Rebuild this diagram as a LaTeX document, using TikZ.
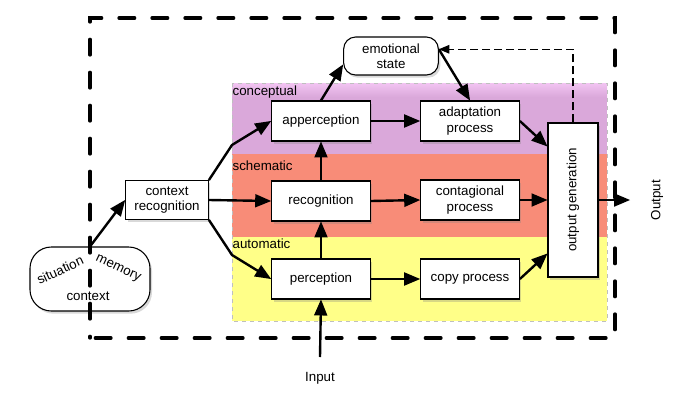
\documentclass[tikz,border=0pt]{standalone}
\usepackage{fontspec}
\setmainfont{Liberation Sans}
\usepackage{tikz}
\usetikzlibrary{arrows,shadows}

\definecolor{conceptcol}{RGB}{218,168,218}
\definecolor{concepttop}{RGB}{242,196,242}
\definecolor{schemacol}{RGB}{248,140,120}
\definecolor{autocol}{RGB}{255,255,136}

\begin{document}
\begin{tikzpicture}[x=0.75pt,y=-0.75pt,font=\fontsize{10}{11.5}\selectfont,
    procbox/.style={draw,fill=white,line width=0.8pt,align=center,
        minimum width=74pt,minimum height=30pt,inner sep=1pt,
        drop shadow={opacity=0.3,shadow xshift=1.5pt,shadow yshift=-2pt}},
    flow/.style={->,line width=1.8pt}]
\useasboundingbox (0,0) rectangle (694,408);

    % layers
    \fill[conceptcol] (232,83) rectangle (607,154);
    \shade[top color=concepttop,bottom color=conceptcol] (232,83) rectangle (607,97);
    \fill[schemacol] (232,154) rectangle (607,237);
    \fill[autocol] (232,237) rectangle (607,321);
    \draw[black!25,dashed,line width=0.6pt] (232,83) rectangle (607,321);
    \node[anchor=west,inner sep=1pt] (lconc) at (231,92) {conceptual};
    \node[anchor=west,inner sep=1pt] (lschem) at (231,166) {schematic};
    \node[anchor=west,inner sep=1pt] (lauto) at (231,244) {automatic};

    % boxes
    \node[procbox,minimum width=62pt,minimum height=29pt] (ctxrec) at (167,200) {context\\recognition};
    \node[procbox,rounded corners=16pt,minimum width=90pt,minimum height=48pt] (ctx) at (90,279) {};
    \node[rotate=25,inner sep=0pt] (sit) at (60,270) {situation};
    \node[rotate=-25,inner sep=0pt] (mem) at (118,269) {memory};
    \node[inner sep=0pt] (ctxlbl) at (88,296) {context};

    \node[procbox] (app) at (321,121) {apperception};
    \node[procbox] (rec) at (321,201) {recognition};
    \node[procbox] (per) at (321,279) {perception};
    \node[procbox] (adp) at (470,121) {adaptation\\process};
    \node[procbox] (ctg) at (470,200) {contagional\\process};
    \node[procbox] (cpy) at (470,279) {copy process};
    \node[procbox,rounded corners=9pt,minimum width=71pt,minimum height=28.5pt] (emo) at (391,56) {emotional\\state};
    \node[procbox,minimum width=37.5pt,minimum height=115.5pt] (og) at (573,200) {\rotatebox{90}{output generation}};

    \node[rotate=90] (outlbl) at (657,200) {Output};
    \node (inlbl) at (320,378) {Input};
    \coordinate (bendA) at (232,145);
    \coordinate (bendB) at (232,255);
    \coordinate (outtip) at (630,200);
    \coordinate (intail) at (320,357);

\begin{scope}[>=triangle 45]
    \draw[flow] (ctx.north) -- (ctxrec.west);
    \draw[flow] (ctxrec.north east) -- (bendA) -- (app.west);
    \draw[flow] (ctxrec.east) -- (rec.west);
    \draw[flow] (ctxrec.south east) -- (bendB) -- (per.west);
    \draw[flow] (per.north) -- (rec.south);
    \draw[flow] (rec.north) -- (app.south);
    \draw[flow] (app.east) -- (adp.west);
    \draw[flow] (rec.east) -- (ctg.west);
    \draw[flow] (per.east) -- (cpy.west);
    \draw[flow] (app.north) -- (emo.190);
    \draw[flow] (emo.8) -- (adp.north);
    \draw[flow] (adp.east) -- ([yshift=-18pt]og.north west);
    \draw[flow] (ctg.east) -- (og.west);
    \draw[flow] (cpy.east) -- ([yshift=18pt]og.south west);
    \draw[flow] (og.east) -- (outtip);
    \draw[flow] (intail) -- (per.south);
    \draw[->,line width=0.8pt,dash pattern=on 6pt off 3pt] (og.north) |- (emo.8);
\end{scope}

    % system border
    \draw[line width=2.5pt,line cap=round,dash pattern=on 11.75pt off 13pt,dash phase=10.5pt]
        (90,338) -- (90,18) -- (615,18) -- (615,338) -- cycle;
\end{tikzpicture}
\end{document}
